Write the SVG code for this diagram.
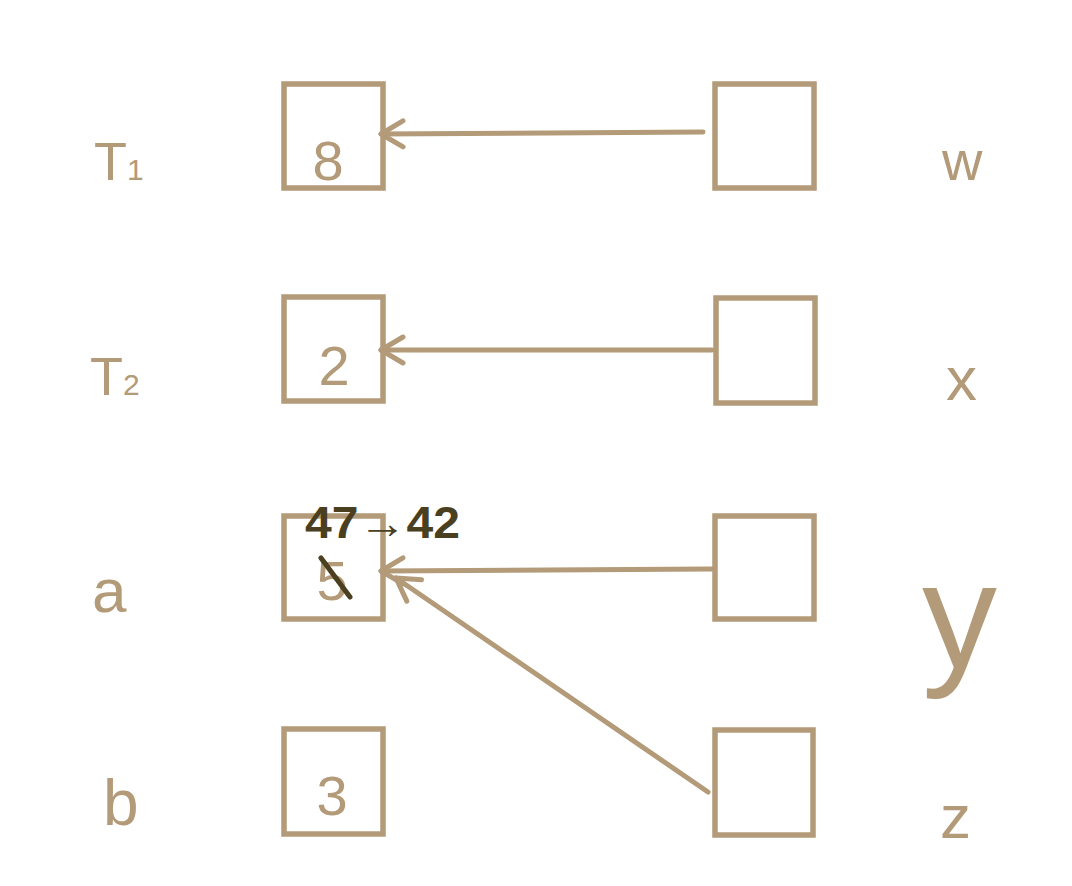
<svg xmlns="http://www.w3.org/2000/svg" width="1072" height="886" viewBox="0 0 1072 886">
<style>
.box{fill:none;stroke:#b39a78;stroke-width:5.5}
.lbl{font-family:"Liberation Sans",Arial,sans-serif;fill:#b39a78}
.num{font-family:"Liberation Sans",Arial,sans-serif;fill:#b39a78;font-size:56px;text-anchor:middle}
.edge{stroke:#b39a78;stroke-width:5;fill:none;stroke-linecap:round}
</style>
<defs>
<marker id="ah" viewBox="0 0 32 32" refX="29" refY="16" markerWidth="32" markerHeight="32" markerUnits="userSpaceOnUse" orient="auto">
<path d="M7,3 L29,16 L7,29" fill="none" stroke="#b39a78" stroke-width="5" stroke-linecap="round" stroke-linejoin="round"/>
</marker>
</defs>
<rect width="1072" height="886" fill="#ffffff"/>
<g id="connectors">
<line class="edge" x1="703" y1="132" x2="381" y2="134" marker-end="url(#ah)"/>
<line class="edge" x1="712" y1="350" x2="381" y2="350" marker-end="url(#ah)"/>
<line class="edge" x1="712" y1="569" x2="381" y2="571" marker-end="url(#ah)"/>
<line class="edge" x1="708" y1="792" x2="396" y2="578" marker-end="url(#ah)"/>
</g>
<g id="T1"><rect class="box" x="284" y="84" width="99" height="104"/><text class="num" x="328" y="180" font-size="72">8</text><text class="lbl" x="94" y="180" font-size="54">T<tspan font-size="30">1</tspan></text></g>
<g id="T2"><rect class="box" x="284" y="297" width="99" height="104"/><text class="num" x="334" y="385">2</text><text class="lbl" x="90" y="395" font-size="54">T<tspan font-size="30">2</tspan></text></g>
<g id="a"><rect class="box" x="284" y="516" width="99" height="103"/><text class="num" x="332" y="600">5</text><line x1="321" y1="558" x2="350" y2="597" stroke="#4a3f1e" stroke-width="5" stroke-linecap="round"/><text x="305" y="538" textLength="155" lengthAdjust="spacingAndGlyphs" font-family="Liberation Sans,Arial,sans-serif" font-size="44" font-weight="bold" fill="#4a3f1e">47→42</text><text class="lbl" x="92" y="612" font-size="62">a</text></g>
<g id="b"><rect class="box" x="284" y="729" width="99" height="105"/><text class="num" x="332" y="815">3</text><text class="lbl" x="103" y="825" font-size="64">b</text></g>
<g id="w"><rect class="box" x="715" y="84" width="99" height="104"/><text class="lbl" x="942" y="180" font-size="56">w</text></g>
<g id="x"><rect class="box" x="716" y="298" width="99" height="105"/><text class="lbl" x="946" y="400" font-size="62">x</text></g>
<g id="y"><rect class="box" x="715" y="516" width="99" height="103"/><text class="lbl" x="922" y="668" font-size="150">y</text></g>
<g id="z"><rect class="box" x="715" y="730" width="98" height="105"/><text class="lbl" x="940" y="838" font-size="62">z</text></g>
</svg>
